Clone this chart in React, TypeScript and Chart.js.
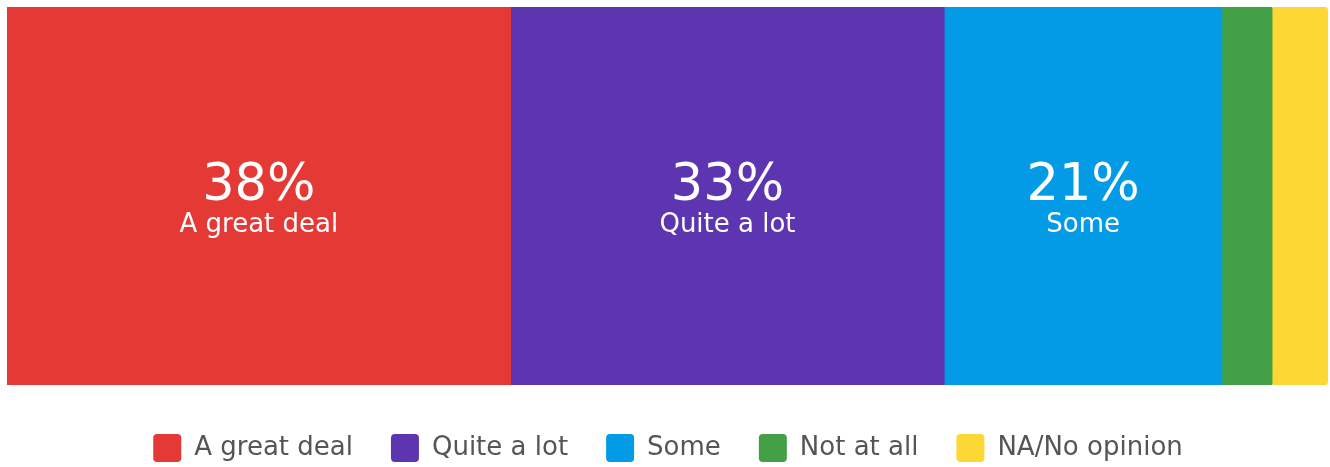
import React, { useEffect, useRef } from "react";
import { Chart, registerables } from "chart.js";

Chart.register(...registerables);

const categories = ["Confidence"];
const seriesNames = ["A great deal", "Quite a lot", "Some", "Not at all", "NA/No opinion"];
const seriesValues = [38.1, 32.8, 21.0, 3.8, 4.2];
const seriesColors = ["#e53935", "#5e35b1", "#039be5", "#43a047", "#fdd835"];

const FONT = "'DejaVu Sans', sans-serif";

const segmentLabels = {
  id: "segmentLabels",
  afterDatasetsDraw(chart: any) {
    const ctx = chart.ctx;
    ctx.save();
    ctx.fillStyle = "#ffffff";
    ctx.textAlign = "center";
    ctx.textBaseline = "alphabetic";
    chart.data.datasets.forEach((ds: any, i: number) => {
      const meta = chart.getDatasetMeta(i);
      const el = meta.data[0];
      const v = ds.data[0];
      if (v < 10) return;
      const cx = (el.x + el.base) / 2;
      const cy = el.y;
      ctx.font = `400 51px ${FONT}`;
      ctx.fillText(`${Math.round(v)}%`, cx, cy + 4);
      ctx.font = `400 26px ${FONT}`;
      ctx.fillText(ds.label, cx, cy + 36);
    });
    ctx.restore();
  },
};

export default function App() {
  const ref = useRef<HTMLCanvasElement>(null);
  useEffect(() => {
    document.body.style.margin = "0";
    const chart = new Chart(ref.current!, {
      type: "bar",
      data: {
        labels: categories,
        datasets: seriesNames.map((name, i) => ({
          label: name,
          data: [seriesValues[i]],
          backgroundColor: seriesColors[i],
          borderWidth: 0,
          borderRadius: 4,
          borderSkipped: false,
          barPercentage: 1,
          categoryPercentage: 1,
        })),
      },
      options: {
        indexAxis: "y",
        animation: false,
        responsive: false,
        maintainAspectRatio: false,
        layout: { padding: { left: 7, right: 1, top: 7, bottom: 0 } },
        scales: {
          x: { stacked: true, display: false, min: 0, max: 100 },
          y: { stacked: true, display: false },
        },
        plugins: {
          tooltip: { enabled: false },
          legend: {
            position: "bottom",
            maxHeight: 82,
            title: { display: true, text: "", padding: 0, font: { size: 1, lineHeight: 11 } },
            labels: {
              boxWidth: 28,
              boxHeight: 28,
              padding: 38,
              useBorderRadius: true,
              borderRadius: 4,
              color: "#555555",
              font: { family: FONT, size: 26 },
            },
          },
        },
      },
      plugins: [segmentLabels],
    });
    return () => chart.destroy();
  }, []);
  return (
    <div style={{ width: 1330, height: 467 }}>
      <canvas ref={ref} width={1330} height={467} style={{ width: 1330, height: 467, display: "block" }} />
    </div>
  );
}
